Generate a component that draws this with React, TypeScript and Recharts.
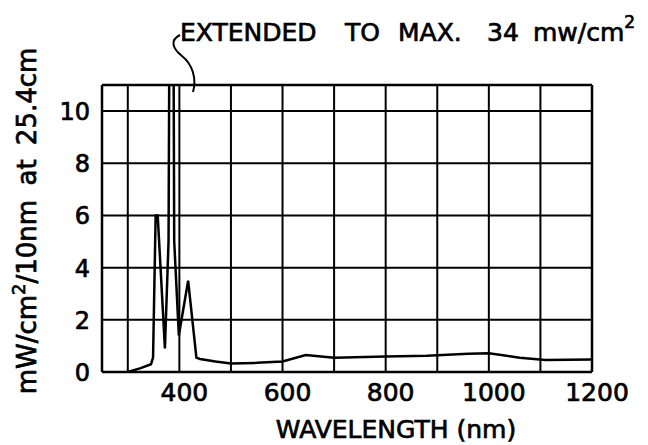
import React from "react";
import { CartesianGrid, Line, LineChart, ReferenceLine, XAxis, YAxis } from "recharts";

// wavelength (nm) and irradiance; the tall line goes off-scale to 34
const wavelengths = [300, 325, 345, 349, 354, 358, 372, 379, 385, 390, 399, 417, 433, 440, 470, 500, 550, 600, 645, 700, 800, 880, 960, 1000, 1060, 1110, 1200];
const irradiance = [0, 0.15, 0.3, 0.55, 6, 6, 0.9, 5, 34, 5, 1.4, 3.5, 0.55, 0.5, 0.4, 0.33, 0.35, 0.4, 0.65, 0.55, 0.59, 0.62, 0.7, 0.72, 0.55, 0.46, 0.48];

const gridX = [300, 400, 500, 600, 700, 800, 900, 1000, 1100, 1200];
const labelX = [400, 600, 800, 1000, 1200];
const ticksY = [0, 2, 4, 6, 8, 10];

const data = wavelengths.map((nm, i) => ({ nm, v: irradiance[i] }));

const FONT = "DejaVu Sans";
// hand lettering is a bit heavier than the plain font
const heavy = { stroke: "#000", strokeWidth: 0.7 };

function XTick(props: any) {
  const { x, y, payload } = props;
  if (!labelX.includes(payload.value)) return null;
  return (
    <text x={x + 5} y={y} dy={21} textAnchor="middle" fontFamily={FONT} fontSize={25} fill="#000" {...heavy}>
      {payload.value}
    </text>
  );
}

function YTick(props: any) {
  const { x, y, payload } = props;
  return (
    <text x={x - 4} y={y} dy={9} textAnchor="end" fontFamily={FONT} fontSize={24} fill="#000" {...heavy}>
      {payload.value}
    </text>
  );
}

export default function App() {
  return (
    <div style={{ position: "relative", width: 648, height: 445, background: "#fff" }}>
      <style>{`body{margin:0;background:#fff}`}</style>
      <LineChart width={648} height={445} data={data} margin={{ top: 85, right: 56, left: 0, bottom: 0 }}>
        <CartesianGrid stroke="#000" strokeWidth={2} vertical horizontal />
        <XAxis
          dataKey="nm"
          type="number"
          domain={[250, 1200]}
          ticks={gridX}
          interval={0}
          height={73}
          tickLine={false}
          axisLine={{ stroke: "#000", strokeWidth: 2.5 }}
          tick={<XTick />}
        />
        <YAxis
          type="number"
          domain={[0, 11]}
          ticks={ticksY}
          interval={0}
          allowDataOverflow
          width={102}
          tickLine={false}
          axisLine={{ stroke: "#000", strokeWidth: 2.5 }}
          tick={<YTick />}
        />
        <ReferenceLine y={11} stroke="#000" strokeWidth={2.5} />
        <ReferenceLine x={1200} stroke="#000" strokeWidth={2.5} />
        <Line type="linear" dataKey="v" stroke="#000" strokeWidth={2.5} dot={false} isAnimationActive={false} />
      </LineChart>
      <svg width={648} height={445} style={{ position: "absolute", left: 0, top: 0, pointerEvents: "none" }}>
        <text y={41} fontFamily={FONT} fontSize={25} fill="#000" {...heavy}>
          <tspan x={180}>EXTENDED</tspan>
          <tspan x={345}>TO</tspan>
          <tspan x={398}>MAX.</tspan>
          <tspan x={487}>34</tspan>
          <tspan x={533}>mw/cm</tspan>
          <tspan fontSize={17} dy={-13}>2</tspan>
        </text>
        <path d="M180,35 C170,40 172,48 182,56 C192,64 197,78 193,92" fill="none" stroke="#000" strokeWidth={2} />
        <text
          transform="rotate(-90 36 221)"
          x={36}
          y={221}
          textAnchor="middle"
          fontFamily={FONT}
          fontSize={26}
          fill="#000"
          {...heavy}
          style={{ wordSpacing: 6 }}
        >
          mW/cm<tspan fontSize={18} dy={-11}>2</tspan>
          <tspan dy={11}>/10nm at 25.4cm</tspan>
        </text>
        <text x={396} y={438} textAnchor="middle" fontFamily={FONT} fontSize={25} fill="#000" {...heavy}>
          WAVELENGTH (nm)
        </text>
      </svg>
    </div>
  );
}
